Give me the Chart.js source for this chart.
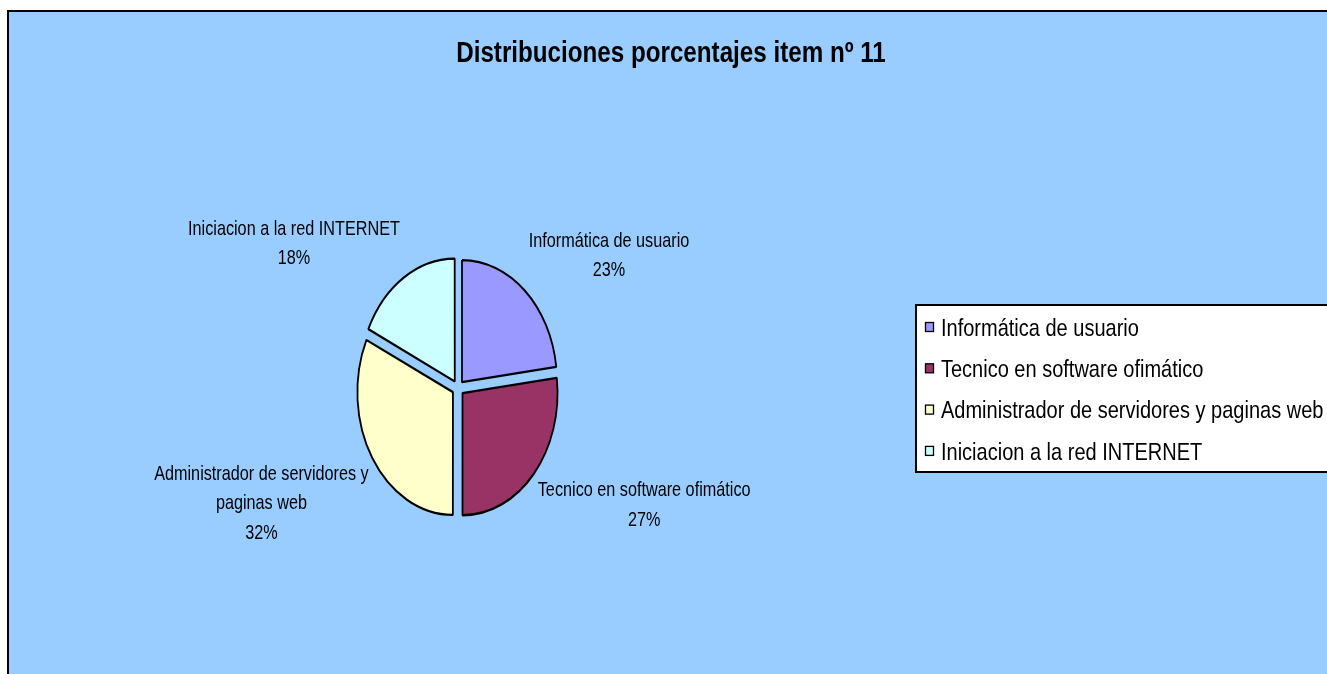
<!DOCTYPE html>
<html>
<head>
<meta charset="utf-8">
<script src="https://cdn.jsdelivr.net/npm/chart.js@4"></script>
<style>
html,body{margin:0;padding:0;background:#fff;overflow:hidden;width:1327px;height:674px}
#wrap{position:absolute;left:7px;top:10px;width:1328px;height:664px}
</style>
</head>
<body>
<div id="wrap"><canvas id="c" width="1328" height="664"></canvas></div>
<script>
// ---- data ----
const titleText = 'Distribuciones porcentajes item nº 11';
const categories = ['Informática de usuario', 'Tecnico en software ofimático', 'Administrador de servidores y paginas web', 'Iniciacion a la red INTERNET'];
const percentages = [23, 27, 32, 18];
const sliceColors = ['#9999FF', '#993366', '#FFFFCC', '#CCFFFF'];

// ---- rendering helpers ----
const SY = 1.285;      // vertical stretch of the pie (elliptical pie)
const EXPLODE = 6;     // pixels each slice is pulled out

function hasFont(name) {
  const c = document.createElement('canvas').getContext('2d');
  c.font = '40px monospace';
  const a = c.measureText('abcdefghiWMx').width;
  c.font = '40px "' + name + '", monospace';
  const b = c.measureText('abcdefghiWMx').width;
  return a !== b;
}
const NARROW = hasFont('Liberation Sans Narrow');
const FAM = NARROW ? '"Liberation Sans Narrow"' : '"Liberation Sans", Arial, sans-serif';
const SX = NARROW ? 1 : 0.82;
function setFont(ctx, size, bold) { ctx.font = (bold ? 'bold ' : '') + size + 'px ' + FAM; }
function tw(ctx, t) { return ctx.measureText(t).width * SX; }
function txt(ctx, t, x, y) { ctx.save(); ctx.translate(x, y); ctx.scale(SX, 1); ctx.fillText(t, 0, 0); ctx.restore(); }
function wrap(ctx, text, maxW) {
  const words = text.split(' '); const out = []; let cur = '';
  for (const w of words) {
    const t = cur ? cur + ' ' + w : w;
    if (cur && tw(ctx, t) > maxW) { out.push(cur); cur = w; } else cur = t;
  }
  if (cur) out.push(cur);
  return out;
}

const backgroundPlugin = {
  id: 'bg',
  beforeDraw(chart) {
    const ctx = chart.ctx, W = chart.width, H = chart.height;
    ctx.save();
    ctx.fillStyle = '#99CCFF';
    ctx.fillRect(0, 0, W, H);
    ctx.strokeStyle = '#000'; ctx.lineWidth = 2;
    ctx.strokeRect(1, 1, W + 10, H + 10);
    // title
    setFont(ctx, 29.5, true);
    ctx.fillStyle = '#000'; ctx.textAlign = 'center'; ctx.textBaseline = 'middle';
    txt(ctx, titleText, 664, 44);
    ctx.restore();
  }
};

const ellipsePlugin = {
  id: 'ellipse',
  beforeDatasetsDraw(chart) {
    const ctx = chart.ctx, el = chart.getDatasetMeta(0).data[0];
    ctx.save();
    ctx.translate(el.x, el.y); ctx.scale(1, SY); ctx.translate(-el.x, -el.y);
  },
  afterDatasetsDraw(chart) {
    const ctx = chart.ctx;
    ctx.restore();
    const meta = chart.getDatasetMeta(0);
    const total = percentages.reduce((a, b) => a + b, 0);
    ctx.save();
    setFont(ctx, 19.8, false);
    ctx.fillStyle = '#000'; ctx.textAlign = 'center'; ctx.textBaseline = 'middle';
    meta.data.forEach((arc, i) => {
      const p = arc.getProps(['x', 'y', 'startAngle', 'endAngle', 'outerRadius'], true);
      const a = (p.startAngle + p.endAngle) / 2;
      const R = p.outerRadius + EXPLODE;
      const ax = p.x + Math.cos(a) * R, ay = p.y + Math.sin(a) * R * SY;
      const lines = wrap(ctx, categories[i], 235).concat([Math.round(percentages[i] / total * 100) + '%']);
      const w = Math.max(...lines.map(l => tw(ctx, l)));
      const LH = 29.5, h = lines.length * LH;
      const left = Math.cos(a) >= 0 ? ax + 4 : ax - 4 - w;
      const top = Math.sin(a) < 0 ? ay - 5 - h : ay + 2;
      lines.forEach((l, j) => txt(ctx, l, left + w / 2, top + LH * (j + 0.5)));
    });
    ctx.restore();
  }
};

const legendPlugin = {
  id: 'boxLegend',
  afterDraw(chart) {
    const ctx = chart.ctx;
    const x0 = 909, y0 = 295, y1 = 462;
    ctx.save();
    ctx.fillStyle = '#fff';
    ctx.fillRect(x0, y0, chart.width - x0 + 10, y1 - y0);
    ctx.strokeStyle = '#000'; ctx.lineWidth = 2;
    ctx.strokeRect(x0, y0, chart.width - x0 + 10, y1 - y0);
    setFont(ctx, 24.4, false);
    ctx.textAlign = 'left'; ctx.textBaseline = 'middle';
    categories.forEach((c, i) => {
      const cy = 319 + i * 41.3;
      ctx.fillStyle = sliceColors[i];
      ctx.fillRect(918.5, cy - 6.5, 8, 9);
      ctx.lineWidth = 1.3; ctx.strokeStyle = '#000';
      ctx.strokeRect(918.5, cy - 6.5, 8, 9);
      ctx.fillStyle = '#000';
      txt(ctx, c, 934, cy);
    });
    ctx.restore();
  }
};

new Chart(document.getElementById('c'), {
  type: 'pie',
  data: {
    labels: categories,
    datasets: [{
      data: percentages,
      backgroundColor: sliceColors,
      borderColor: '#000',
      borderWidth: 1.8,
      offset: EXPLODE * 4,
      hoverOffset: 0,
      radius: 95
    }]
  },
  options: {
    responsive: false,
    animation: false,
    events: [],
    layout: { padding: { left: 251, right: 677, top: 101, bottom: 9 } },
    plugins: { legend: { display: false }, tooltip: { enabled: false }, title: { display: false } }
  },
  plugins: [backgroundPlugin, ellipsePlugin, legendPlugin]
});
</script>
</body>
</html>
